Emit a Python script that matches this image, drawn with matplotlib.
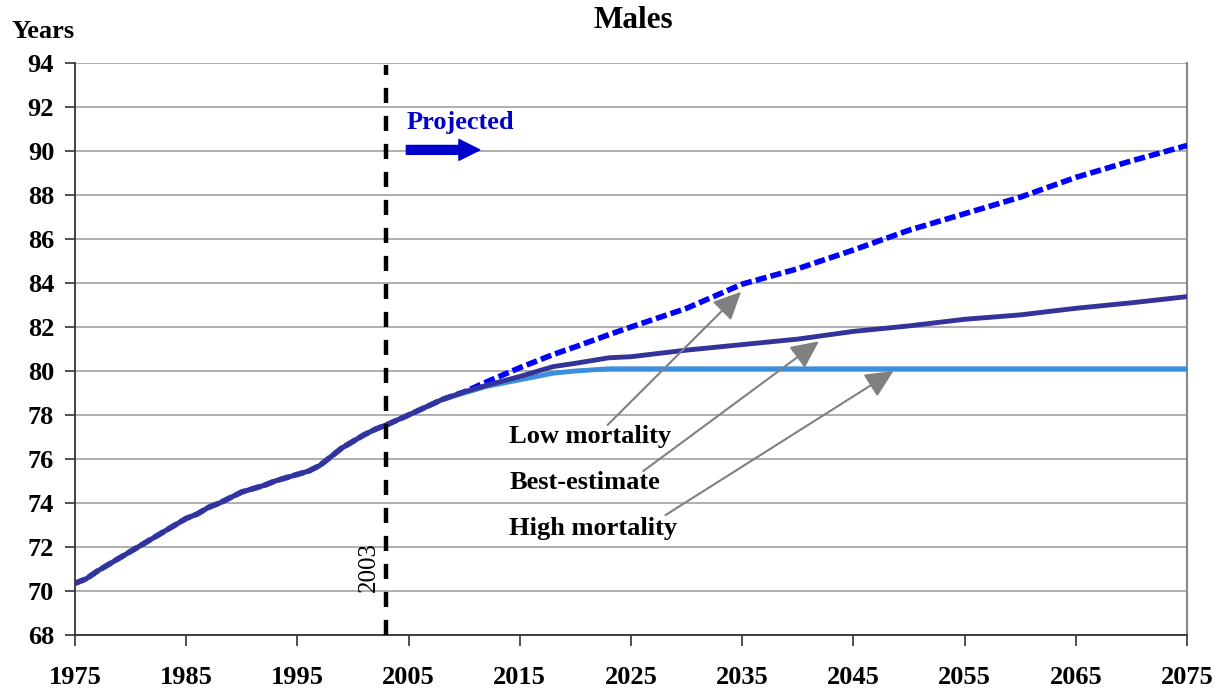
import matplotlib
matplotlib.use("Agg")
import matplotlib.pyplot as plt

# ---------------- data ----------------
hist_years = list(range(1975, 2004))
hist_values = [70.35, 70.55, 70.9, 71.2, 71.5, 71.8, 72.1, 72.4, 72.7, 73.0,
               73.3, 73.5, 73.8, 74.0, 74.25, 74.5, 74.65, 74.8, 75.0, 75.15,
               75.3, 75.45, 75.7, 76.1, 76.5, 76.8, 77.1, 77.35, 77.55]

proj_years = [2003, 2005, 2008, 2010, 2012, 2015, 2018, 2020, 2023, 2025,
              2030, 2035, 2040, 2045, 2050, 2055, 2060, 2065, 2070, 2075]
low_mortality = [77.55, 78.0, 78.7, 79.05, 79.5, 80.15, 80.75, 81.1, 81.65, 82.0,
                 82.85, 83.95, 84.65, 85.5, 86.4, 87.15, 87.9, 88.8, 89.55, 90.25]
best_estimate = [77.55, 78.0, 78.7, 79.05, 79.35, 79.75, 80.2, 80.35, 80.6, 80.65,
                 80.95, 81.2, 81.45, 81.8, 82.05, 82.35, 82.55, 82.85, 83.1, 83.38]
high_mortality = [77.55, 78.0, 78.7, 79.0, 79.3, 79.6, 79.9, 80.0, 80.1, 80.1,
                  80.1, 80.1, 80.1, 80.1, 80.1, 80.1, 80.1, 80.1, 80.1, 80.1]

x_ticks = [1975, 1985, 1995, 2005, 2015, 2025, 2035, 2045, 2055, 2065, 2075]
y_ticks = [68, 70, 72, 74, 76, 78, 80, 82, 84, 86, 88, 90, 92, 94]
base_year = 2003

# ---------------- figure ----------------
plt.rcParams['font.family'] = ['Liberation Serif', 'DejaVu Serif']
fig = plt.figure(figsize=(12.22, 6.90), dpi=100)
ax = fig.add_axes([75/1222, 1-635/690, (1187-75)/1222, (635-63)/690])

ax.set_xlim(1975, 2075)
ax.set_ylim(68, 94)

for yv in y_ticks:
    ax.axhline(yv, color='#999999', lw=1.1, zorder=1)

years_all = hist_years[:-1] + proj_years
ax.plot(years_all, hist_values[:-1] + low_mortality, color='#0000FF', lw=4.0,
        ls=(0, (2.0, 0.75)), zorder=3, solid_capstyle='butt', dash_capstyle='butt')
ax.plot(years_all, hist_values[:-1] + high_mortality, color='#3A8EDB', lw=3.5,
        zorder=4)
ax.plot(years_all, hist_values[:-1] + best_estimate, color='#333399', lw=3.5,
        zorder=5)

ax.plot([base_year, base_year], [68, 93.9], color='black', lw=3.2,
        ls=(0, (3.4, 2.9)), zorder=6)
ax.text(2001.4, 71.1, str(base_year), rotation=90, ha='center', va='center',
        fontsize=18, color='black', zorder=7)

# Projected arrow
ax.text(2004.8, 91.3, 'Projected', color='#0000CC', fontsize=19,
        fontweight='bold', ha='left', va='center')
ax.annotate('', xy=(2011.4, 90.05), xytext=(2004.8, 90.05),
            arrowprops=dict(arrowstyle='simple,head_length=0.75,head_width=0.75,tail_width=0.32',
                            color='#0000CC', mutation_scale=20, shrinkA=0, shrinkB=0))

# scenario labels with arrows
labels = [('Low mortality', 77.0, (2022.9, 77.55), (2034.9, 83.6)),
          ('Best-estimate', 74.95, (2026.1, 75.45), (2041.9, 81.35)),
          ('High mortality', 72.85, (2028.1, 73.45), (2048.6, 80.0))]
for txt, ty, tail, head in labels:
    ax.text(2014.05, ty, txt, fontsize=19, fontweight='bold', ha='left',
            va='center', color='black', zorder=8)
    ax.annotate('', xy=head, xytext=tail,
                arrowprops=dict(arrowstyle='-|>,head_length=0.95,head_width=0.45',
                                color='#808080', lw=1.5, mutation_scale=18,
                                shrinkA=0, shrinkB=0), zorder=8)

# axes styling
ax.set_xticks(x_ticks)
ax.set_yticks(y_ticks)
ax.set_xticklabels([str(v) for v in x_ticks], fontsize=19, fontweight='bold')
ax.set_yticklabels([str(v) for v in y_ticks], fontsize=19, fontweight='bold')
ax.tick_params(axis='x', direction='out', length=8, width=1.2, pad=14, color='#333333')
ax.tick_params(axis='y', direction='out', length=7, width=1.2, pad=8, color='#333333')
for s in ['left', 'bottom']:
    ax.spines[s].set_color('#333333')
    ax.spines[s].set_linewidth(1.3)
ax.spines['right'].set_color('#888888')
ax.spines['right'].set_linewidth(1.5)
ax.spines['top'].set_visible(False)

fig.text(633/1222, 1-21/690, 'Males', fontsize=22.5, fontweight='bold',
         ha='center', va='center')
fig.text(12/1222, 1-32/690, 'Years', fontsize=19, fontweight='bold',
         ha='left', va='center')

fig.savefig('out.png', dpi=100)
